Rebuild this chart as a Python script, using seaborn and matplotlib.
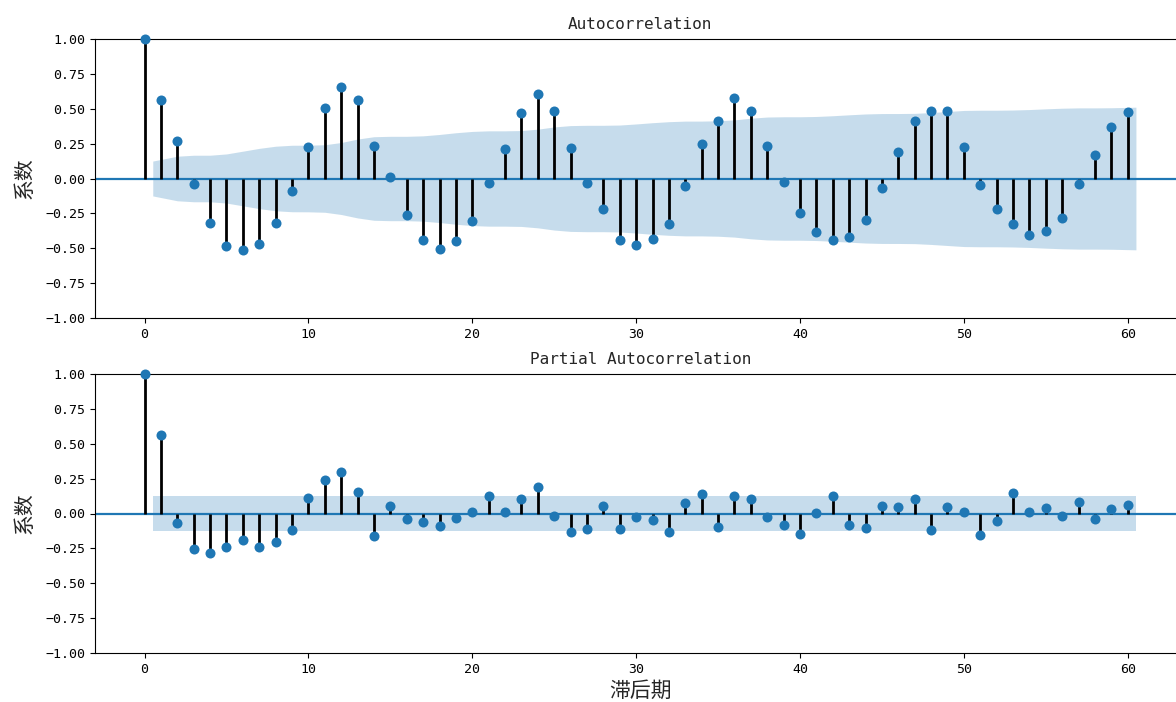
import numpy as np
import matplotlib
matplotlib.use("Agg")
import matplotlib.pyplot as plt
import seaborn as sns

# ---- data ----
lags = list(range(61))
acf_values = [1.000, 0.563, 0.271, -0.042, -0.317, -0.486, -0.515, -0.470, -0.321, -0.092,
              0.224, 0.505, 0.654, 0.560, 0.235, 0.008, -0.259, -0.441, -0.505, -0.448,
              -0.305, -0.035, 0.209, 0.472, 0.606, 0.482, 0.221, -0.035, -0.219, -0.438,
              -0.477, -0.434, -0.326, -0.056, 0.247, 0.412, 0.575, 0.482, 0.235, -0.023,
              -0.247, -0.386, -0.441, -0.422, -0.297, -0.068, 0.188, 0.415, 0.482, 0.482,
              0.224, -0.044, -0.216, -0.324, -0.407, -0.374, -0.281, -0.037, 0.168, 0.367,
              0.474]
pacf_values = [1.000, 0.563, -0.068, -0.252, -0.286, -0.240, -0.190, -0.238, -0.202, -0.116,
               0.109, 0.243, 0.300, 0.152, -0.164, 0.054, -0.037, -0.061, -0.092, -0.030,
               0.011, 0.128, 0.011, 0.106, 0.192, -0.020, -0.133, -0.113, 0.056, -0.111,
               -0.023, -0.049, -0.133, 0.073, 0.137, -0.097, 0.128, 0.101, -0.025, -0.082,
               -0.149, 0.001, 0.128, -0.080, -0.104, 0.051, 0.044, 0.106, -0.121, 0.044,
               0.008, -0.152, -0.056, 0.147, 0.011, 0.039, -0.016, 0.080, -0.042, 0.030,
               0.063]
nobs = 246          # sample size implied by the confidence band width
z_crit = 1.96       # 95% band
titles = ["Autocorrelation", "Partial Autocorrelation"]
ylabel_text = "系数"
xlabel_text = "滞后期"
yticks = [-1.00, -0.75, -0.50, -0.25, 0.00, 0.25, 0.50, 0.75, 1.00]
xticks = [0, 10, 20, 30, 40, 50, 60]

sns.set_style("ticks")
plt.rcParams["font.family"] = ["DejaVu Sans Mono", "Noto Sans CJK SC"]
plt.rcParams["axes.unicode_minus"] = True

# confidence half-widths (statsmodels definitions)
acf_arr = np.array(acf_values)
var_acf = np.ones(len(acf_arr)) / nobs
var_acf[0] = 0
var_acf[2:] *= 1 + 2 * np.cumsum(acf_arr[1:-1] ** 2)
acf_band = z_crit * np.sqrt(var_acf)
pacf_band = np.full(len(pacf_values), z_crit / np.sqrt(nobs))

W, H = 1176, 702
fig = plt.figure(figsize=(W / 100, H / 100), dpi=100)
ax_left = 95 / W
ax_w = (1185.5 - 95) / W
ax_h = (318 - 39) / H
ax1 = fig.add_axes([ax_left, 1 - 318 / H, ax_w, ax_h])
ax2 = fig.add_axes([ax_left, 1 - 653 / H, ax_w, ax_h])

lag_arr = np.array(lags, dtype=float)
band_x = lag_arr[1:].copy()
band_x[0] -= 0.5
band_x[-1] += 0.5

for ax, vals, band, title in [(ax1, acf_values, acf_band, titles[0]),
                               (ax2, pacf_values, pacf_band, titles[1])]:
    ax.fill_between(band_x, -band[1:], band[1:], color="C0", alpha=0.25, linewidth=0)
    ax.axhline(0, color="C0", linewidth=1.6, zorder=2)
    ax.vlines(lags, [0] * len(vals), vals, colors="black", linewidth=2.0, zorder=2)
    sns.scatterplot(x=lags, y=vals, ax=ax, color="C0", s=52, linewidth=0, zorder=3,
                    clip_on=False)
    ax.set_xlim(-3.025, 63.525)
    ax.set_ylim(-1, 1)
    ax.set_yticks(yticks)
    ax.set_yticklabels([f"{t:.2f}".replace("-", "\u2212") for t in yticks])
    ax.set_xticks(xticks)
    ax.tick_params(labelsize=9.5, length=3.5, width=0.8, colors="black")
    ax.set_title(title, fontsize=11.5, pad=7)
    ax.set_ylabel(ylabel_text, fontsize=15, labelpad=8)
    for s in ax.spines.values():
        s.set_color("black")
        s.set_linewidth(0.8)

ax2.set_xlabel(xlabel_text, fontsize=15, labelpad=4)

fig.savefig("out.png", dpi=100)
